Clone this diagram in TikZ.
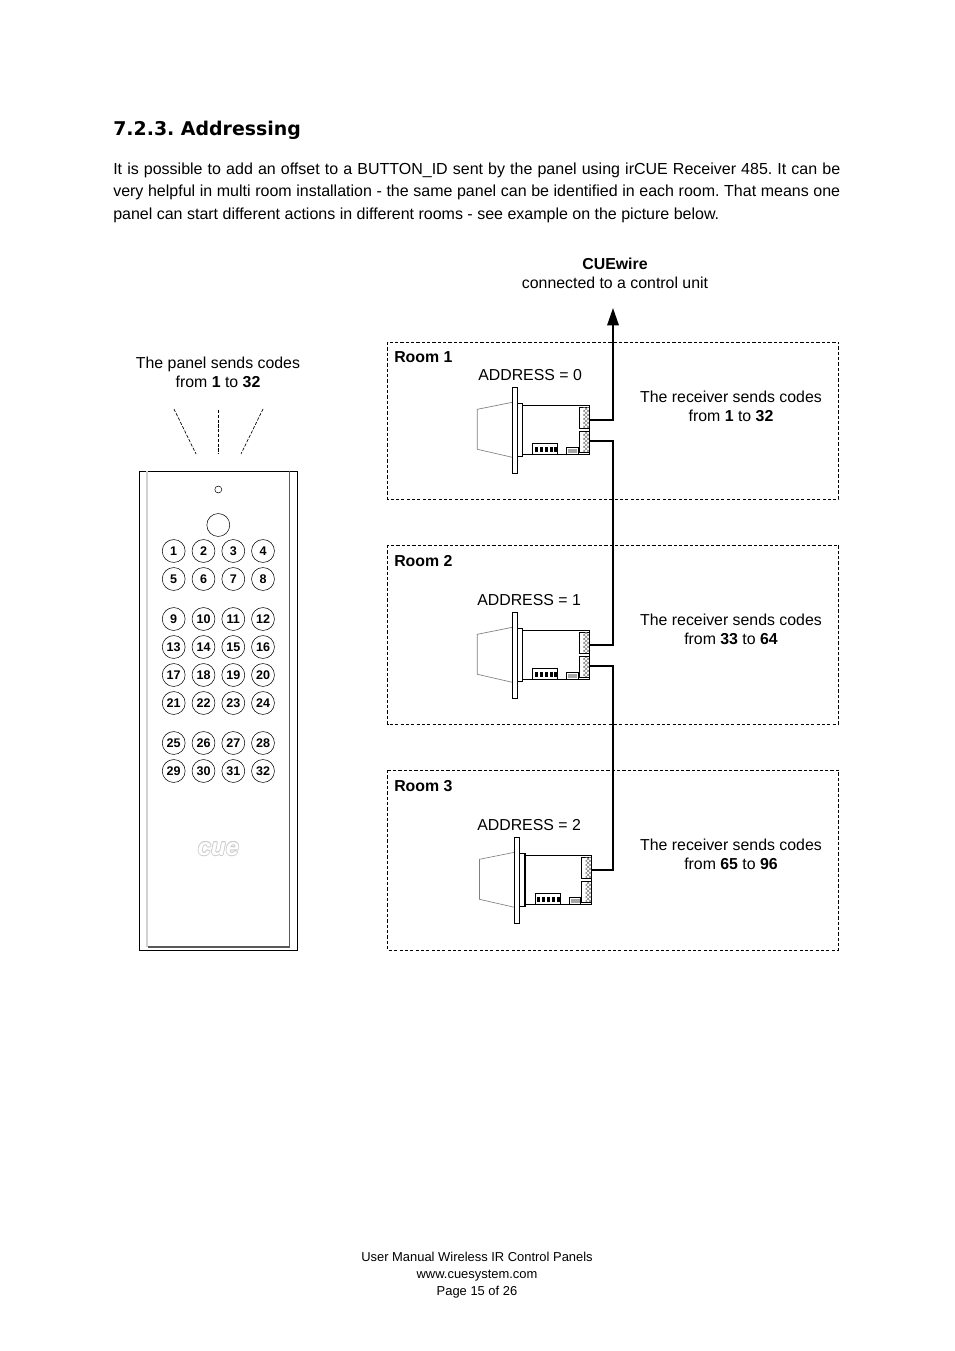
\documentclass[tikz,border=0pt]{standalone}
\usepackage{fontspec}
\setmainfont{Liberation Sans}
\newfontfamily\headfont{DejaVu Sans}
\usetikzlibrary{patterns,arrows.meta}
\frenchspacing
\tikzset{
    body/.style={font=\fontsize{11.9}{14.25}\selectfont, inner sep=0pt, align=center},
    small/.style={font=\fontsize{9.7}{13}\selectfont, inner sep=0pt, align=center},
    room/.style={draw, dash pattern=on 2.4pt off 1.6pt, line width=0.4pt},
    ray/.style={draw, dash pattern=on 2.4pt off 1.2pt, line width=0.5pt},
    btn/.style={circle, draw, line width=0.4pt, minimum size=17.2pt, inner sep=0pt, font=\fontsize{9.4}{10}\selectfont\bfseries},
    wire/.style={line width=1.5pt},
    pics/receiver/.style={code={
        \draw[gray, line width=0.5pt] (0,15) -- (-35,22) -- (-35,62) -- (0,70);
        \draw[line width=0.8pt] (0,0) rectangle (5,86);
        \draw[line width=0.8pt] (5,16) rectangle (10.5,69.5);
        \draw[line width=0.8pt] (10.5,18) rectangle (77,67);
        \draw[line width=0.7pt, fill=white] (67,20) rectangle (77,41);
        \draw[line width=0.7pt, fill=white] (67,44.5) rectangle (77,65);
        \fill[pattern=crosshatch, pattern color=gray] (71,20.5) rectangle (76.5,40.5);
        \fill[pattern=crosshatch, pattern color=gray] (71,45) rectangle (76.5,64.5);
        \draw[line width=0.7pt] (20.5,67) |- (45.5,56) -- (45.5,67);
        \foreach \bx in {22.5,27.5,32.5,37.5,42} {
            \fill (\bx,59.5) rectangle ++(3,5);
        }
        \draw[line width=0.7pt] (54.5,67) |- (66,60) -- (66,67);
        \fill[gray!70] (56,62) rectangle (65,65.5);
        \coordinate (-up) at (77,33);
        \coordinate (-down) at (77,53.5);
    }}
}
\begin{document}
\begin{tikzpicture}[x=0.75pt, y=-0.75pt]
    \useasboundingbox (0,0) rectangle (954,1351);
    % heading and paragraph
    \node[anchor=base west, inner sep=0pt, font=\headfont\fontsize{14.2}{18}\selectfont\bfseries] (title) at (113,136) {7.2.3. Addressing};
    \node[anchor=north west, inner sep=0pt, text width=545.25pt, align=justify, font=\fontsize{12}{16.9}\selectfont] (intro) at (113,162.5) {It is possible to add an offset to a BUTTON\_ID sent by the panel using irCUE Receiver 485. It can be\linebreak very helpful in multi room installation - the same panel can be identified in each room. That means one\linebreak panel can start different actions in different rooms - see example on the picture below.};
    % panel
    \draw[line width=0.7pt] (139.5,471) rectangle (297.5,950);
    \draw[gray!35, line width=1.3pt] (147,471) -- (147,947);
    \draw[black!65, line width=0.8pt] (147.5,947) -| (289.5,471);
    \node[circle, draw, line width=0.4pt, minimum size=5.2pt, inner sep=0pt] (led) at (218.3,489.5) {};
    \node[circle, draw, line width=0.4pt, minimum size=17.2pt, inner sep=0pt] (bigbtn) at (218.3,525) {};
    \foreach \row/\ypos/\first in {0/551/1,1/579/5,2/619/9,3/647/13,4/675/17,5/703/21,6/743/25,7/771/29} {
        \foreach \col/\xpos in {0/173.7,1/203.5,2/233.3,3/263} {
            \pgfmathtruncatemacro{\num}{\first+\col}
            \node[btn] (b\num) at (\xpos,\ypos) {\num};
        }
    }
    % logo outline
    \foreach \dx/\dy in {-.7/0,.7/0,0/-.7,0/.7,-.5/-.5,.5/-.5,-.5/.5,.5/.5} {
        \node[text=gray!40, font=\fontsize{18}{18}\selectfont\bfseries\itshape, inner sep=0pt] (logo) at (218.5+\dx,849+\dy) {cue};
    }
    \node[text=white, font=\fontsize{18}{18}\selectfont\bfseries\itshape, inner sep=0pt] (logotop) at (218.5,849) {cue};
    % rays
    \coordinate (ray1a) at (174,409); \coordinate (ray1b) at (196,454);
    \coordinate (ray2a) at (218,410); \coordinate (ray2b) at (218,454);
    \coordinate (ray3a) at (263,409); \coordinate (ray3b) at (241,454);
    \draw[ray] (ray1a) -- (ray1b);
    \draw[ray] (ray2a) -- (ray2b);
    \draw[ray] (ray3a) -- (ray3b);
    \node[body] (paneltext) at (218,372.5) {The panel sends codes\\from \textbf{1} to \textbf{32}};
    % rooms
    \draw[room] (387.5,342) rectangle (838.5,499);
    \draw[room] (387.5,545) rectangle (838.5,724);
    \draw[room] (387.5,770) rectangle (838.5,950);
    \node[body, anchor=base west] (room1) at (394,363) {\textbf{Room 1}};
    \node[body, anchor=base west] (room2) at (394,566) {\textbf{Room 2}};
    \node[body, anchor=base west] (room3) at (394,791) {\textbf{Room 3}};
    \node[body, anchor=base west] (addr1) at (478,380) {ADDRESS = 0};
    \node[body, anchor=base west] (addr2) at (477,605) {ADDRESS = 1};
    \node[body, anchor=base west] (addr3) at (477,830) {ADDRESS = 2};
    \node[body] (send1) at (731,406.5) {The receiver sends codes\\from \textbf{1} to \textbf{32}};
    \node[body] (send2) at (731,629.5) {The receiver sends codes\\from \textbf{33} to \textbf{64}};
    \node[body] (send3) at (731,854.5) {The receiver sends codes\\from \textbf{65} to \textbf{96}};
    % receivers
    \pic (rx1) at (512.3,387.3) {receiver};
    \pic (rx2) at (512.3,612.3) {receiver};
    \pic (rx3) at (514.5,837.3) {receiver};
    % wiring
    \node[body] (cuewire) at (615,273.5) {\textbf{CUEwire}\\connected to a control unit};
    \coordinate (top) at (613,308);
    \draw[wire, -{Triangle[length=17.5pt*0.75, width=11.5pt*0.75]}] (rx1-up) -| (top);
    \draw[wire] (rx1-down) -| (613,530) |- (rx2-up);
    \draw[wire] (rx2-down) -| (613,770) |- (rx3-up);
    % footer
    \node[small] (footer) at (477,1275) {User Manual Wireless IR Control Panels\\www.cuesystem.com\\Page 15 of 26};
\end{tikzpicture}
\end{document}
